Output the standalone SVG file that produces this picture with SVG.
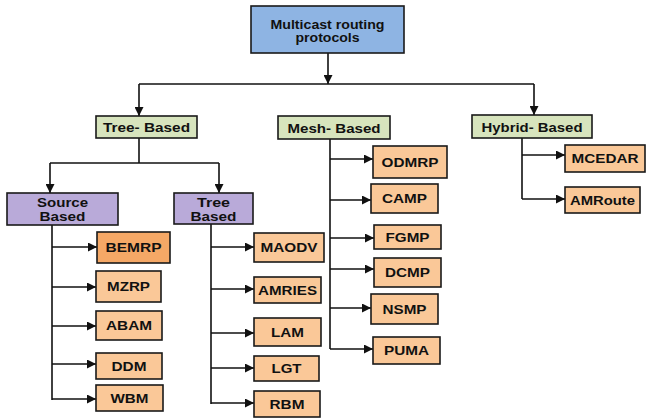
<svg xmlns="http://www.w3.org/2000/svg" width="648" height="419" viewBox="0 0 648 419">
<defs>
<marker id="ah" viewBox="0 0 10 10" refX="10" refY="5" markerWidth="9" markerHeight="9" markerUnits="userSpaceOnUse" orient="auto">
<path d="M0,0 L10,5 L0,10 Z" fill="#111"/>
</marker>
</defs>
<style>
.box{stroke:#1a1a1a;stroke-width:1.6}
.root{fill:#8eb4e3}
.cat{fill:#d7e4bd}
.sub{fill:#b9aad9}
.leaf{fill:#fac898}
.hot{fill:#f5a866}
text{font-family:"Liberation Sans",Arial,sans-serif;font-weight:bold;font-size:13px;fill:#111;text-anchor:middle}
.two{font-size:12px}
.c line,.c path{stroke:#111;stroke-width:1.6;fill:none}
</style>
<rect width="648" height="419" fill="#fff"/>
<g class="c" id="connectors">
<line x1="328" y1="53" x2="328" y2="84" marker-end="url(#ah)"/>
<line x1="139" y1="84" x2="534" y2="84"/>
<line x1="139" y1="84" x2="139" y2="116" marker-end="url(#ah)"/>
<line x1="534" y1="84" x2="534" y2="115" marker-end="url(#ah)"/>
<line x1="139" y1="138" x2="139" y2="163"/>
<line x1="50" y1="163" x2="219" y2="163"/>
<line x1="50" y1="163" x2="50" y2="193" marker-end="url(#ah)"/>
<line x1="219" y1="163" x2="219" y2="193" marker-end="url(#ah)"/>
<line x1="52" y1="225" x2="52" y2="400"/>
<line x1="52" y1="247" x2="97" y2="247" marker-end="url(#ah)"/>
<line x1="52" y1="287" x2="96" y2="287" marker-end="url(#ah)"/>
<line x1="52" y1="326" x2="96" y2="326" marker-end="url(#ah)"/>
<line x1="52" y1="364" x2="96" y2="364" marker-end="url(#ah)"/>
<line x1="52" y1="399" x2="96" y2="399" marker-end="url(#ah)"/>
<line x1="211" y1="224" x2="211" y2="404"/>
<line x1="211" y1="247" x2="254" y2="247" marker-end="url(#ah)"/>
<line x1="211" y1="289" x2="254" y2="289" marker-end="url(#ah)"/>
<line x1="211" y1="333" x2="254" y2="333" marker-end="url(#ah)"/>
<line x1="211" y1="368" x2="254" y2="368" marker-end="url(#ah)"/>
<line x1="211" y1="403" x2="254" y2="403" marker-end="url(#ah)"/>
<line x1="330" y1="139" x2="330" y2="349"/>
<line x1="330" y1="159" x2="373" y2="159" marker-end="url(#ah)"/>
<line x1="330" y1="200" x2="371" y2="200" marker-end="url(#ah)"/>
<line x1="330" y1="238" x2="374" y2="238" marker-end="url(#ah)"/>
<line x1="330" y1="269" x2="374" y2="269" marker-end="url(#ah)"/>
<line x1="330" y1="308" x2="371" y2="308" marker-end="url(#ah)"/>
<line x1="330" y1="349" x2="373" y2="349" marker-end="url(#ah)"/>
<line x1="522" y1="138" x2="522" y2="199"/>
<line x1="522" y1="155" x2="565" y2="155" marker-end="url(#ah)"/>
<line x1="522" y1="199" x2="565" y2="199" marker-end="url(#ah)"/>
</g>
<g id="root"><rect class="box root" x="251" y="6" width="153" height="47"/><text class="two" x="327.5" y="28.5" textLength="114" lengthAdjust="spacingAndGlyphs">Multicast routing</text><text class="two" x="327.5" y="42" textLength="64" lengthAdjust="spacingAndGlyphs">protocols</text></g>
<g id="tree-based"><rect class="box cat" x="96" y="116" width="101" height="22"/><text x="146.5" y="132" textLength="87" lengthAdjust="spacingAndGlyphs">Tree- Based</text></g>
<g id="mesh-based"><rect class="box cat" x="278" y="116" width="112" height="23"/><text x="334" y="132.5" textLength="93" lengthAdjust="spacingAndGlyphs">Mesh- Based</text></g>
<g id="hybrid-based"><rect class="box cat" x="472" y="115" width="120" height="23"/><text x="532" y="131.5" textLength="101" lengthAdjust="spacingAndGlyphs">Hybrid- Based</text></g>
<g id="source-based"><rect class="box sub" x="7" y="193" width="111" height="32"/><text class="two" x="62.5" y="206.5" textLength="51" lengthAdjust="spacingAndGlyphs">Source</text><text class="two" x="62.5" y="220.5" textLength="46" lengthAdjust="spacingAndGlyphs">Based</text></g>
<g id="tree-based-sub"><rect class="box sub" x="174" y="193" width="79" height="31"/><text class="two" x="213.5" y="206.5" textLength="33" lengthAdjust="spacingAndGlyphs">Tree</text><text class="two" x="213.5" y="220.5" textLength="46" lengthAdjust="spacingAndGlyphs">Based</text></g>
<g id="bemrp"><rect class="box hot" x="97" y="232" width="73" height="31"/><text x="133.5" y="252" textLength="56" lengthAdjust="spacingAndGlyphs">BEMRP</text></g>
<g id="mzrp"><rect class="box leaf" x="96" y="271" width="65" height="31"/><text x="128.5" y="291" textLength="43" lengthAdjust="spacingAndGlyphs">MZRP</text></g>
<g id="abam"><rect class="box leaf" x="96" y="311" width="66" height="29"/><text x="129" y="330" textLength="46" lengthAdjust="spacingAndGlyphs">ABAM</text></g>
<g id="ddm"><rect class="box leaf" x="96" y="353" width="66" height="26"/><text x="129" y="370.5" textLength="35" lengthAdjust="spacingAndGlyphs">DDM</text></g>
<g id="wbm"><rect class="box leaf" x="96" y="385" width="67" height="26"/><text x="129.5" y="402.5" textLength="38" lengthAdjust="spacingAndGlyphs">WBM</text></g>
<g id="maodv"><rect class="box leaf" x="254" y="233" width="70" height="29"/><text x="289" y="252" textLength="57" lengthAdjust="spacingAndGlyphs">MAODV</text></g>
<g id="amries"><rect class="box leaf" x="254" y="277" width="67" height="26"/><text x="287.5" y="294.5" textLength="59" lengthAdjust="spacingAndGlyphs">AMRIES</text></g>
<g id="lam"><rect class="box leaf" x="254" y="318" width="67" height="28"/><text x="287.5" y="336.5" textLength="33" lengthAdjust="spacingAndGlyphs">LAM</text></g>
<g id="lgt"><rect class="box leaf" x="254" y="356" width="65" height="25"/><text x="286.5" y="373" textLength="30" lengthAdjust="spacingAndGlyphs">LGT</text></g>
<g id="rbm"><rect class="box leaf" x="254" y="391" width="66" height="26"/><text x="287" y="408.5" textLength="35" lengthAdjust="spacingAndGlyphs">RBM</text></g>
<g id="odmrp"><rect class="box leaf" x="373" y="146" width="74" height="32"/><text x="410" y="166.5" textLength="57" lengthAdjust="spacingAndGlyphs">ODMRP</text></g>
<g id="camp"><rect class="box leaf" x="371" y="184" width="67" height="29"/><text x="404.5" y="203" textLength="45" lengthAdjust="spacingAndGlyphs">CAMP</text></g>
<g id="fgmp"><rect class="box leaf" x="374" y="225" width="67" height="24"/><text x="407.5" y="241.5" textLength="44" lengthAdjust="spacingAndGlyphs">FGMP</text></g>
<g id="dcmp"><rect class="box leaf" x="374" y="258" width="67" height="29"/><text x="407.5" y="277" textLength="45" lengthAdjust="spacingAndGlyphs">DCMP</text></g>
<g id="nsmp"><rect class="box leaf" x="371" y="294" width="67" height="30"/><text x="404.5" y="313.5" textLength="44" lengthAdjust="spacingAndGlyphs">NSMP</text></g>
<g id="puma"><rect class="box leaf" x="373" y="337" width="67" height="27"/><text x="406.5" y="355" textLength="45" lengthAdjust="spacingAndGlyphs">PUMA</text></g>
<g id="mcedar"><rect class="box leaf" x="565" y="145" width="80" height="27"/><text x="605" y="163" textLength="67" lengthAdjust="spacingAndGlyphs">MCEDAR</text></g>
<g id="amroute"><rect class="box leaf" x="565" y="187" width="75" height="26"/><text x="602.5" y="204.5" textLength="65" lengthAdjust="spacingAndGlyphs">AMRoute</text></g>
</svg>
